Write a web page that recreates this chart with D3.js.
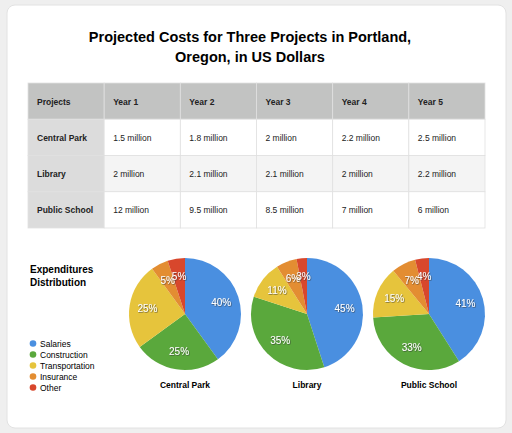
<!DOCTYPE html><html><head><script src="https://cdn.jsdelivr.net/npm/d3@7"></script>
<style>body{margin:0;background:#efefef;font-family:"Liberation Sans",Arial,sans-serif}</style></head><body>
<svg id="c" width="512" height="433"></svg>
<script>
const columns=["Projects","Year 1","Year 2","Year 3","Year 4","Year 5"];
const projects=["Central Park","Library","Public School"];
const costs=[["1.5 million","1.8 million","2 million","2.2 million","2.5 million"],
["2 million","2.1 million","2.1 million","2 million","2.2 million"],
["12 million","9.5 million","8.5 million","7 million","6 million"]];
const categories=["Salaries","Construction","Transportation","Insurance","Other"];
const shares=[[40,25,25,5,5],[45,35,11,6,3],[41,33,15,7,4]];
const colors=["#4a8fe0","#5aa83c","#e6c43c","#e38d32","#d8472c"];

const svg=d3.select("#c");
const defs=svg.append("defs");
const f=defs.append("filter").attr("id","sh");
f.append("feDropShadow").attr("dx",0.6).attr("dy",0.6).attr("stdDeviation",0.5).attr("flood-color","#333").attr("flood-opacity",0.8);
svg.append("rect").attr("x",7).attr("y",5).attr("width",499).attr("height",423).attr("rx",8).attr("fill","#fff").attr("stroke","#e2e2e2");
svg.append("text").attr("x",250).attr("y",42).attr("text-anchor","middle").attr("font-weight","bold").attr("font-size",14.5).text("Projected Costs for Three Projects in Portland,");
svg.append("text").attr("x",250).attr("y",62).attr("text-anchor","middle").attr("font-weight","bold").attr("font-size",14.5).text("Oregon, in US Dollars");

const xs=d3.scaleBand().domain(columns).range([28,485]);
const ys=d3.scaleBand().domain(["h",...projects]).range([83,228]);
const rowsH=[{k:"h",cells:columns},...projects.map((p,i)=>({k:p,cells:[p,...costs[i]]}))];
rowsH.forEach((r,ri)=>{r.cells.forEach((c,ci)=>{
 let fill=ri===0?"#c2c3c2":(ci===0?"#dcdcdc":(ri===2?"#f4f4f4":"#fff"));
 svg.append("rect").attr("x",xs(columns[ci])).attr("y",ys(r.k)).attr("width",xs.bandwidth()).attr("height",ys.bandwidth()).attr("fill",fill).attr("stroke","#e0e0e0").attr("stroke-width",0.8);
 svg.append("text").attr("x",xs(columns[ci])+9).attr("y",ys(r.k)+ys.bandwidth()/2+3.5).attr("font-size",8.5).attr("font-weight",(ri===0||ci===0)?"bold":"normal").attr("fill","#222").text(c);
});});

svg.append("text").attr("x",30).attr("y",273).attr("font-weight","bold").attr("font-size",10).text("Expenditures");
svg.append("text").attr("x",30).attr("y",286).attr("font-weight","bold").attr("font-size",10).text("Distribution");
const ly=d3.scaleBand().domain(categories).range([338,393]);
categories.forEach((c,i)=>{
 svg.append("circle").attr("cx",33).attr("cy",ly(c)+ly.bandwidth()/2).attr("r",3.3).attr("fill",colors[i]);
 svg.append("text").attr("x",40).attr("y",ly(c)+ly.bandwidth()/2+3).attr("font-size",8.5).text(c);
});

const px=d3.scalePoint().domain(projects).range([185,429]);
const pie=d3.pie().sort(null).value(d=>d);
const arc=d3.arc().innerRadius(0).outerRadius(56);
const la=d3.arc().innerRadius(38).outerRadius(38);
projects.forEach((p,i)=>{
 const g=svg.append("g").attr("transform",`translate(${px(p)},314)`);
 const arcs=pie(shares[i]);
 g.selectAll("path").data(arcs).join("path").attr("d",arc).attr("fill",(d,j)=>colors[j]);
 g.selectAll("text").data(arcs).join("text").attr("transform",d=>`translate(${la.centroid(d)})`).attr("text-anchor","middle").attr("dy","0.35em").attr("font-size",10).attr("fill","#fff").attr("filter","url(#sh)").text(d=>d.data+"%");
 svg.append("text").attr("x",px(p)).attr("y",388).attr("text-anchor","middle").attr("font-weight","bold").attr("font-size",8.5).text(p);
});
</script></body></html>
